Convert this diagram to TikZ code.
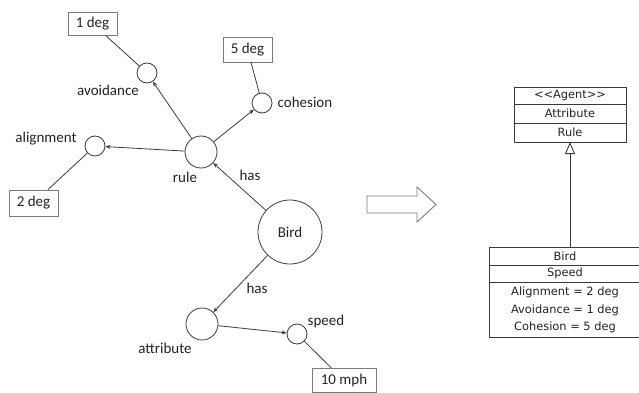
\documentclass[tikz,border=0pt]{standalone}
\usepackage{fontspec}
\setmainfont{Carlito}
\newfontfamily\umlfont{DejaVu Sans}
\usetikzlibrary{arrows.meta}
\definecolor{ln}{HTML}{3A3A3A}
\definecolor{bx}{HTML}{7A7A7A}
\definecolor{tx}{HTML}{222222}
\begin{document}
\begin{tikzpicture}[x=1pt,y=-1pt,
  every node/.style={text=tx},
  lbl/.style={font=\fontsize{15}{18}\selectfont, inner sep=0pt},
  valbox/.style={draw=bx, line width=0.9pt, rectangle, inner sep=0pt, font=\fontsize{15}{18}\selectfont},
  circ/.style={draw=ln, line width=0.8pt, circle, inner sep=0pt},
  conn/.style={draw=ln, line width=0.8pt},
  arr/.style={conn, -{Stealth[length=5pt,width=4pt]}},
  uml/.style={draw=ln, line width=0.9pt},
  umltxt/.style={font=\umlfont\fontsize{11.4}{13}\selectfont, inner sep=0pt}
]
\useasboundingbox (0,0) rectangle (639,393);
\clip (0,0) rectangle (639,393);

% value boxes
\node[valbox, minimum width=49pt, minimum height=23pt] (deg1) at (92.5,23.5) {1 deg};
\node[valbox, minimum width=49pt, minimum height=25pt] (deg5) at (247.5,49.5) {5 deg};
\node[valbox, minimum width=49pt, minimum height=26pt] (deg2) at (33.5,203) {2 deg};
\node[valbox, minimum width=64pt, minimum height=24pt] (mph) at (344,380.5) {10 mph};

% circles
\node[circ, minimum size=20pt] (avoid) at (147,73) {};
\node[circ, minimum size=20pt] (coh) at (262,103) {};
\node[circ, minimum size=20pt] (align) at (95,146) {};
\node[circ, minimum size=32pt] (rule) at (201,152) {};
\node[circ, minimum size=64pt, font=\fontsize{15}{18}\selectfont] (bird) at (290,232) {Bird};
\node[circ, minimum size=32pt] (attr) at (202,324) {};
\node[circ, minimum size=20pt] (speed) at (297,334) {};

% labels
\node[lbl] (lavoid) at (108,90) {avoidance};
\node[lbl] (lcoh) at (305,102) {cohesion};
\node[lbl] (lalign) at (46,139) {alignment};
\node[lbl] (lrule) at (185,177) {rule};
\node[lbl] (lhas1) at (250,175) {has};
\node[lbl] (lhas2) at (257,288) {has};
\node[lbl] (lattr) at (165,348) {attribute};
\node[lbl] (lspeed) at (326,321) {speed};

% connectors
\draw[conn] (deg1) -- (avoid);
\draw[conn] (deg5) -- (coh);
\draw[conn] (align) -- (deg2);
\draw[conn] (speed) -- (mph);
\draw[arr] (rule) -- (avoid);
\draw[arr] (rule) -- (coh);
\draw[arr] (rule) -- (align);
\draw[arr] (bird) -- (rule);
\draw[arr] (bird) -- (attr);
\draw[arr] (attr) -- (speed);

% big hollow arrow
\draw[draw=bx, line width=0.9pt, line join=miter]
  (367,196) -- (417,196) -- (417,187) -- (436,204.5) -- (417,222) -- (417,213) -- (367,213) -- cycle;

% UML Agent class
\draw[uml] (514,87) rectangle (626,142);
\draw[uml] (514,104) -- (626,104);
\draw[uml] (514,123) -- (626,123);
\node[umltxt] (agent) at (570,95.5) {<{}<Agent>{}>};
\node[umltxt] (attrc) at (570,113.5) {Attribute};
\node[umltxt] (rulec) at (570,132.5) {Rule};
\coordinate (agentbot) at (570,142);

% UML Bird class
\draw[uml] (489,247) rectangle (641,337);
\draw[uml] (489,265) -- (641,265);
\draw[uml] (489,282) -- (641,282);
\coordinate (birdtop) at (570,247);
\node[umltxt] (birdc) at (565,256) {Bird};
\node[umltxt] (speedc) at (565,273.5) {Speed};
\node[umltxt] (a1) at (565,292) {Alignment = 2 deg};
\node[umltxt] (a2) at (565,310) {Avoidance = 1 deg};
\node[umltxt] (a3) at (565,327) {Cohesion = 5 deg};

\draw[uml, -{Triangle[open, length=12pt, width=10pt]}] (birdtop) -- (agentbot);
\end{tikzpicture}
\end{document}
